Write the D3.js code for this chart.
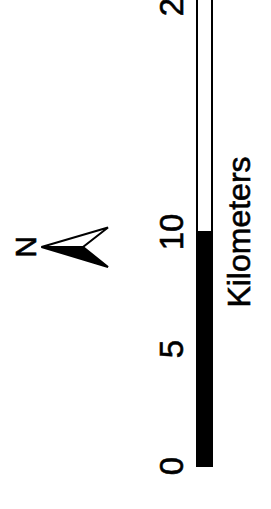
<!DOCTYPE html>
<html>
<head>
<meta charset="utf-8">
<script src="https://cdn.jsdelivr.net/npm/d3@7"></script>
<style>
  body { margin: 0; background: #fff; }
  text { font-family: "Liberation Sans", Arial, sans-serif; fill: #000; stroke: #000; stroke-width: 0.6px; }
</style>
</head>
<body>
<div id="chart"></div>
<script>

  // scale bar data
  var segments = [[0, 10], [10, 20]];
  var segmentFill = ["#000", "#fff"];
  var tickValues = [0, 5, 10, 20];
  var unitLabel = "Kilometers";
  var northLabel = "N";

  var width = 271;
  var height = 509;

  var svg = d3.select('#chart')
    .append('svg')
    .attr('width', width)
    .attr('height', height);

  var y = d3.scaleLinear()
    .domain([0, 20])
    .range([466, -2]);

  // bar
  svg.selectAll('rect.seg')
    .data(segments)
    .enter()
    .append('rect')
    .attr('class', 'seg')
    .attr('x', 197)
    .attr('width', 15)
    .attr('y', function(d) { return y(d[1]); })
    .attr('height', function(d) { return y(d[0]) - y(d[1]); })
    .style('fill', function(d, i) { return segmentFill[i]; })
    .style('stroke', '#000')
    .style('stroke-width', 2);

  // tick labels
  svg.selectAll('text.tick')
    .data(tickValues)
    .enter()
    .append('text')
    .attr('class', 'tick')
    .attr('transform', function(d) { return 'translate(182.5,' + y(d) + ') rotate(-90)'; })
    .attr('text-anchor', 'middle')
    .style('font-size', '33px')
    .text(function(d) { return d; });

  svg.append('text')
    .attr('transform', 'translate(249.5,' + y(10) + ') rotate(-90)')
    .attr('text-anchor', 'middle')
    .style('font-size', '32px')
    .text(unitLabel);

  // north arrow ====================
  var ax = 41.5, ay = 247;

  svg.append('path')
    .attr('d', 'M' + ax + ',' + ay + ' L' + (ax + 66.5) + ',' + (ay - 19.5) + ' L' + (ax + 41.5) + ',' + ay + ' Z')
    .style('fill', '#fff')
    .style('stroke', '#000')
    .style('stroke-width', 2)
    .style('stroke-linejoin', 'miter');

  svg.append('path')
    .attr('d', 'M' + ax + ',' + ay + ' L' + (ax + 41.5) + ',' + ay + ' L' + (ax + 66.5) + ',' + (ay + 20) + ' Z')
    .style('fill', '#000')
    .style('stroke', '#000')
    .style('stroke-width', 2);

  svg.append('text')
    .attr('transform', 'translate(35.5,' + ay + ') rotate(-90)')
    .attr('text-anchor', 'middle')
    .style('font-size', '30px')
    .text(northLabel);

</script>
</body>
</html>
